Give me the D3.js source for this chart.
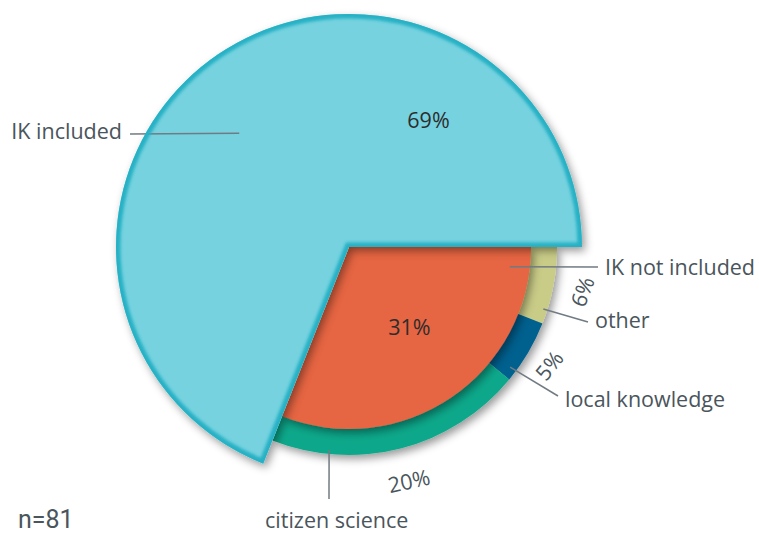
<!DOCTYPE html>
<html>
<head>
<meta charset="utf-8">
<script src="https://cdn.jsdelivr.net/npm/d3@7"></script>
<style>
  body { margin: 0; background: #fff; }
  svg { display: block; }
</style>
</head>
<body>
<svg id="chart" width="759" height="533"></svg>
<script>
// main split
var mainCats = ["IK not included", "IK included"];
var mainVals = [31, 69];
// breakdown of the "not included" share
var subCats = ["other", "local knowledge", "citizen science"];
var subVals = [6, 5, 20];
var sampleSize = 81;

var mainColors = ["#e66542", "#76d2df"];
var subColors = ["#c9cc87", "#03618e", "#11a88b"];

var cx = 349, cy = 247;
var rBig = 233, rSmall = 182, rRingOut = 208;
var start = Math.PI / 2;
var labelFont = "'Open Sans', sans-serif";
var fs = "21.5px";

var svg = d3.select("#chart");
var defs = svg.append("defs");

// soft drop shadow
var sh = defs.append("filter").attr("id", "shadow")
    .attr("x", "-20%").attr("y", "-20%").attr("width", "140%").attr("height", "140%");
sh.append("feDropShadow").attr("dx", 3).attr("dy", 4).attr("stdDeviation", 4)
    .attr("flood-color", "#000").attr("flood-opacity", 0.4);

// slight blur for the edge band
defs.append("filter").attr("id", "soft")
    .attr("x", "-10%").attr("y", "-10%").attr("width", "120%").attr("height", "120%")
  .append("feGaussianBlur").attr("stdDeviation", 1.8);

var total = d3.sum(mainVals);
var mainPie = d3.pie().sort(null).startAngle(start).endAngle(start + 2 * Math.PI);
var mainArcs = mainPie(mainVals);
var subPie = d3.pie().sort(null).startAngle(start)
    .endAngle(start + 2 * Math.PI * d3.sum(subVals) / total);
var subArcs = subPie(subVals);

var ringArc = d3.arc().innerRadius(rSmall - 4).outerRadius(rRingOut);
var smallArc = d3.arc().innerRadius(0).outerRadius(rSmall);
var bigArc = d3.arc().innerRadius(0).outerRadius(rBig);

defs.append("clipPath").attr("id", "bigClip")
  .append("path").attr("d", bigArc(mainArcs[1]))
    .attr("transform", "translate(" + cx + "," + cy + ")");

var g = svg.append("g").attr("transform", "translate(" + cx + "," + cy + ")");

// ring
g.append("g").attr("filter", "url(#shadow)")
  .selectAll("path").data(subArcs).enter().append("path")
    .attr("d", ringArc)
    .attr("fill", function(d, i) { return subColors[i]; });

// orange slice
g.append("g").attr("filter", "url(#shadow)")
  .append("path").attr("d", smallArc(mainArcs[0]))
    .attr("fill", mainColors[0]);

// big slice
g.append("g").attr("filter", "url(#shadow)")
  .append("path").attr("d", bigArc(mainArcs[1]))
    .attr("fill", mainColors[1]);

// darker inner edge band on the big slice
svg.append("g").attr("clip-path", "url(#bigClip)")
  .append("path").attr("d", bigArc(mainArcs[1]))
    .attr("transform", "translate(" + cx + "," + cy + ")")
    .attr("fill", "none").attr("stroke", "#27b1c5").attr("stroke-width", 9)
    .attr("filter", "url(#soft)");

function polar(a, r) { return [r * Math.sin(a), -r * Math.cos(a)]; }
var deg = Math.PI / 180;

// percent labels inside the slices
var p69 = polar(32 * deg, 150), p31 = polar((mainArcs[0].startAngle + mainArcs[0].endAngle) / 2 - 3 * deg, 100);
[[p69, mainVals[1]], [p31, mainVals[0]]].forEach(function(t) {
  g.append("text").attr("x", t[0][0]).attr("y", t[0][1])
    .attr("text-anchor", "middle").attr("dominant-baseline", "central")
    .style("font-family", labelFont).style("font-size", fs)
    .style("fill", "#2d2d2d").text(t[1] + "%");
});

// rotated ring labels
var ringLabelR = [237, 232, 241];
var rotAdj = [10, 8, 2];
subArcs.forEach(function(d, i) {
  var a = (d.startAngle + d.endAngle) / 2;
  var p = polar(a, ringLabelR[i]);
  var rot = a / deg - 180 + rotAdj[i];
  g.append("text")
    .attr("transform", "translate(" + p[0] + "," + p[1] + ") rotate(" + rot + ")")
    .attr("text-anchor", "middle").attr("dominant-baseline", "central")
    .style("font-family", labelFont).style("font-size", fs)
    .style("fill", "#4a555c").text(d.value + "%");
});

// leader lines and category labels
var notes = [
  { text: mainCats[1], a: 316, r: 158, x2: 130 - cx, y2: 134 - cy, tx: 122 - cx, ty: 139 - cy, anchor: "end" },
  { text: mainCats[0], a: 97, r: 162, x2: 598 - cx, y2: 267 - cy, tx: 605 - cx, ty: 275 - cy, anchor: "start" },
  { text: subCats[0], a: 107.7, r: 204, x2: 588 - cx, y2: 322 - cy, tx: 595 - cx, ty: 328 - cy, anchor: "start" },
  { text: subCats[1], a: 126.7, r: 201, x2: 558 - cx, y2: 396 - cy, tx: 565 - cx, ty: 407 - cy, anchor: "start" },
  { text: subCats[2], a: 185.6, r: 204, x2: 329 - cx, y2: 499 - cy, tx: 265 - cx, ty: 528 - cy, anchor: "start" }
];
notes.forEach(function(n) {
  var p = polar(n.a * deg, n.r);
  g.append("line").attr("x1", p[0]).attr("y1", p[1]).attr("x2", n.x2).attr("y2", n.y2)
    .attr("stroke", "#717b83").attr("stroke-width", 1.5);
  g.append("text").attr("x", n.tx).attr("y", n.ty).attr("text-anchor", n.anchor)
    .style("font-family", labelFont).style("font-size", fs)
    .style("fill", "#4a555c").text(n.text);
});

svg.append("text").attr("x", 18).attr("y", 528)
  .style("font-family", "Roboto, sans-serif").style("font-size", "25px")
  .style("fill", "#4a555c").text("n=" + sampleSize);
</script>
</body>
</html>
